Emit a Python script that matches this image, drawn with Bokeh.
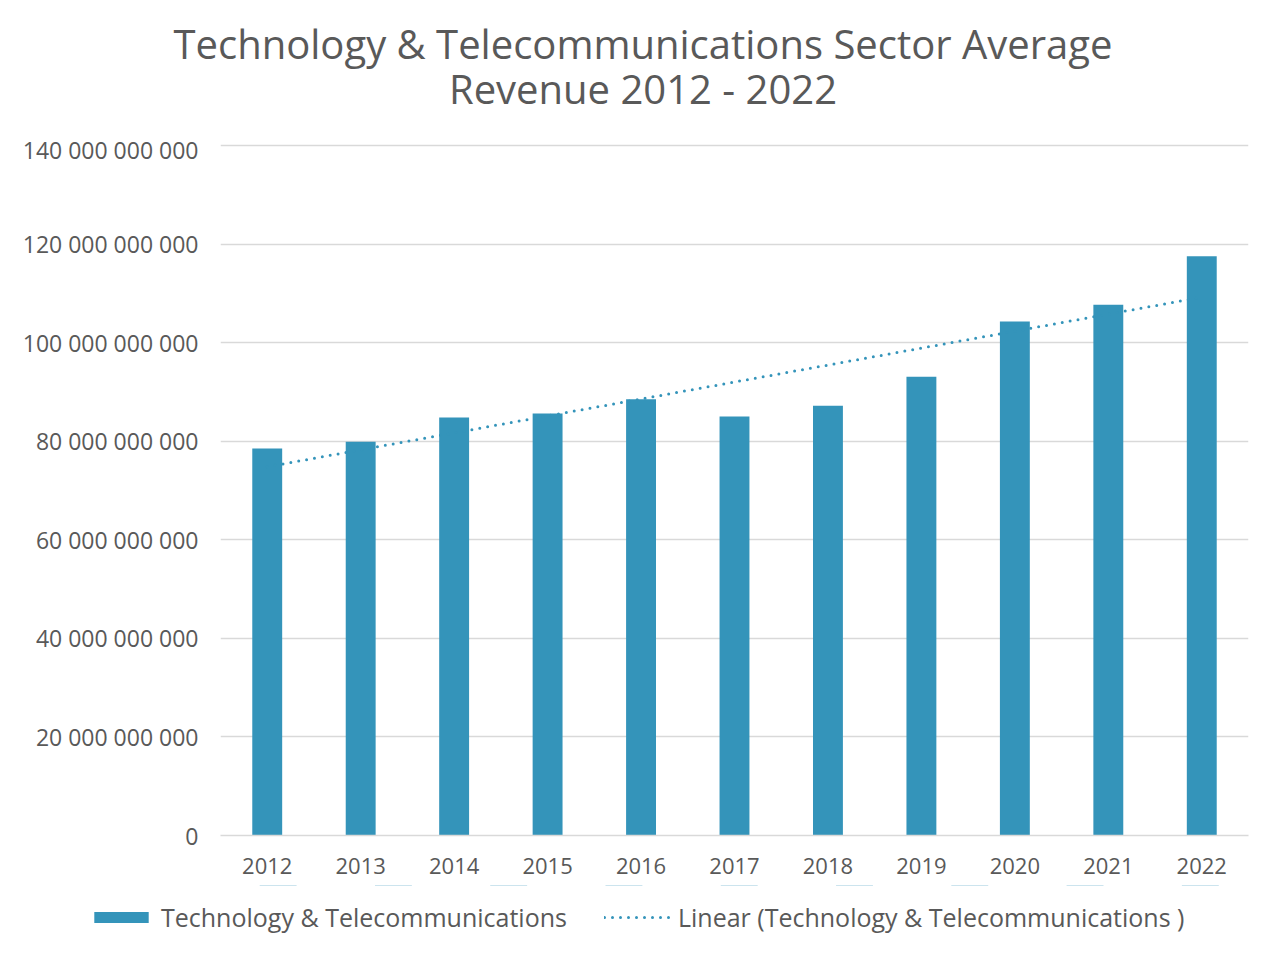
import numpy as np
from bokeh.plotting import figure
from bokeh.layouts import column
from bokeh.models import (Range1d, FactorRange, FixedTicker, CustomJSTickFormatter,
                          Legend, LegendItem, ColumnDataSource, Div)
from bokeh.embed import file_html
from bokeh.resources import INLINE

# ---- data ----
years = ["2012", "2013", "2014", "2015", "2016", "2017", "2018", "2019", "2020", "2021", "2022"]
revenue = [78.5e9, 79.9e9, 84.8e9, 85.6e9, 88.5e9, 85.0e9, 87.2e9, 93.1e9, 104.3e9, 107.7e9, 117.5e9]
y_ticks = [0, 20e9, 40e9, 60e9, 80e9, 100e9, 120e9, 140e9]
series_name = "Technology & Telecommunications"
trend_name = "Linear (Technology & Telecommunications )"
title_line1 = "Technology & Telecommunications Sector Average"
title_line2 = "Revenue 2012 - 2022"

# linear trendline (least squares on the series)
idx = np.arange(len(years))
slope, intercept = np.polyfit(idx, np.array(revenue), 1)
trend = (slope * idx + intercept).tolist()

FONT = "Open Sans"
TXT = "#595959"
BAR = "#3494BA"
GRID = "#d9d9d9"
W = 1268
DOTS = dict(line_color=BAR, line_width=3, line_dash="0 8", line_cap="round")
BARSTYLE = dict(width=0.32, fill_color=BAR, line_color=None)

src = ColumnDataSource(dict(year=years, revenue=revenue, trend=trend))

# ---- title ----
title_html = (
    f'<div style="width:1276px;text-align:center;font-family:\'{FONT}\';font-size:40px;'
    f'color:{TXT};line-height:45px;padding-top:16px;white-space:nowrap;">'
    f'{title_line1.replace("&", "&amp;")}<br>{title_line2}</div>'
)
title_div = Div(text=title_html, width=1276, height=123)

# ---- main chart ----
p = figure(frame_width=1028, frame_height=692, x_range=FactorRange(*years, range_padding=0),
           y_range=Range1d(0, 140.4e9), output_backend="svg", toolbar_location=None)
p.min_border_left = 220
p.min_border_right = 20
p.min_border_top = 10
p.min_border_bottom = 50
p.outline_line_color = None
p.background_fill_color = "white"
p.border_fill_color = "white"

p.vbar(x="year", top="revenue", source=src, **BARSTYLE)
p.line(x="year", y="trend", source=src, **DOTS)

p.yaxis.ticker = FixedTicker(ticks=y_ticks)
p.yaxis.formatter = CustomJSTickFormatter(code="""
    return Math.round(tick).toString().replace(/\\B(?=(\\d{3})+(?!\\d))/g, ' ');
""")
for ax in (p.xaxis[0], p.yaxis[0]):
    ax.major_tick_line_color = None
    ax.minor_tick_line_color = None
    ax.major_tick_out = 0
    ax.major_tick_in = 0
    ax.minor_tick_out = 0
    ax.major_label_text_font = FONT
    ax.major_label_text_color = TXT
p.yaxis.axis_line_color = None
p.yaxis.major_label_text_font_size = "23px"
p.yaxis.major_label_standoff = 22
p.xaxis.axis_line_color = GRID
p.xaxis.axis_line_width = 1.5
p.xaxis.major_label_text_font_size = "22px"
p.xaxis.major_label_standoff = 22

p.xgrid.grid_line_color = None
p.ygrid.grid_line_color = GRID
p.ygrid.grid_line_width = 1.5

# ---- legend strip below the chart (same series, kept out of its visible range) ----
lg = figure(frame_width=W, frame_height=60, x_range=FactorRange(*years, range_padding=0),
            y_range=Range1d(-3e11, -2e11), output_backend="svg", toolbar_location=None)
lg.min_border = 0
lg.axis.visible = False
lg.grid.visible = False
lg.outline_line_color = None
lg.background_fill_color = "white"
lg.border_fill_color = "white"
r_bar = lg.vbar(x="year", top="revenue", source=src, **BARSTYLE)
r_line = lg.line(x="year", y="trend", source=src, **DOTS)

legend = Legend(items=[LegendItem(label=series_name, renderers=[r_bar]),
                       LegendItem(label=trend_name, renderers=[r_line])],
                orientation="horizontal", location=(87, 11),
                label_text_font=FONT, label_text_font_size="25px",
                label_text_color=TXT, glyph_width=68, glyph_height=14,
                label_standoff=6, spacing=37, border_line_color=None,
                background_fill_alpha=0, margin=0, padding=0)
lg.add_layout(legend, "center")

layout = column(title_div, p, lg, spacing=0)
open("out.html", "w").write(file_html(layout, INLINE))
